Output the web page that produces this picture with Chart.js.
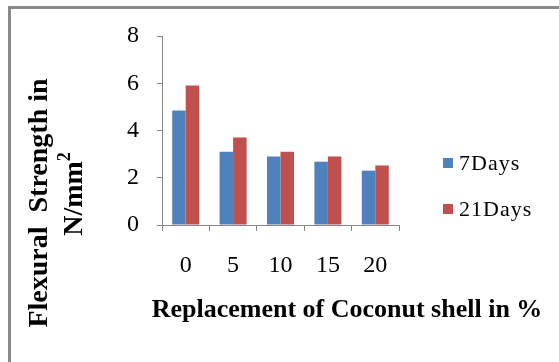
<!DOCTYPE html>
<html>
<head>
<meta charset="utf-8">
<script src="https://cdn.jsdelivr.net/npm/chart.js@4.4.1/dist/chart.umd.min.js"></script>
<style>
    body { margin: 0; background: #fff; }
    #wrap { position: relative; width: 559px; height: 362px; overflow: hidden; }
    #frame {
        position: absolute; left: 8px; top: 6px; width: 600px; height: 400px;
        border-top: 3px solid #8a8a8a; border-left: 3px solid #8a8a8a;
    }
    canvas { position: absolute; left: 0; top: 0; }
</style>
</head>
<body>
<div id="wrap">
    <div id="frame"></div>
    <canvas id="flexChart" width="559" height="362"></canvas>
</div>
<script>
// Replacement percentages
const categories = ["0", "5", "10", "15", "20"];
// Flexural strength (N/mm2)
const days7 = [4.85, 3.1, 2.9, 2.68, 2.3];
const days21 = [5.9, 3.7, 3.1, 2.9, 2.52];
const yTicks = [0, 2, 4, 6, 8];

const serif = "'Liberation Serif', 'Times New Roman', serif";
const axisGray = "#868686";

// Titles and legend drawn on the canvas at their spots
const extrasPlugin = {
    id: "extras",
    afterDraw(chart) {
        const ctx = chart.ctx;
        ctx.save();
        ctx.fillStyle = "#000";
        ctx.textAlign = "center";
        ctx.textBaseline = "middle";

        // x title
        ctx.font = "bold 26px " + serif;
        ctx.fillText("Replacement of Coconut shell in %", 347, 310);

        // y title, two lines rotated
        ctx.font = "bold 28px " + serif;
        ctx.save();
        ctx.translate(40, 203);
        ctx.rotate(-Math.PI / 2);
        ctx.fillText("Flexural  Strength in", 0, 0);
        ctx.restore();

        ctx.save();
        ctx.translate(75, 194);
        ctx.rotate(-Math.PI / 2);
        const main = "N/mm";
        const w = ctx.measureText(main).width;
        ctx.font = "bold 18px " + serif;
        const sw = ctx.measureText("2").width;
        ctx.font = "bold 28px " + serif;
        ctx.textAlign = "left";
        ctx.fillText(main, -(w + sw) / 2, 0);
        ctx.font = "bold 18px " + serif;
        ctx.fillText("2", -(w + sw) / 2 + w, -10);
        ctx.restore();

        // legend
        ctx.font = "22px " + serif;
        ctx.letterSpacing = "1px";
        ctx.textAlign = "left";
        chart.data.datasets.forEach((ds, i) => {
            const y = 163 + i * 46;
            ctx.fillStyle = ds.backgroundColor;
            ctx.fillRect(443, y - 5, 10, 10);
            ctx.fillStyle = "#000";
            ctx.fillText(ds.label, 459, y + 1);
        });
        ctx.restore();
    }
};

new Chart(document.getElementById("flexChart"), {
    type: "bar",
    data: {
        labels: categories,
        datasets: [
            { label: "7Days", data: days7, backgroundColor: "#4f81bd", borderWidth: 0 },
            { label: "21Days", data: days21, backgroundColor: "#c0504d", borderWidth: 0 }
        ]
    },
    options: {
        responsive: false,
        animation: false,
        categoryPercentage: 0.57,
        barPercentage: 1.0,
        layout: { padding: { left: 0, top: 36, right: 160, bottom: 0 } },
        plugins: {
            legend: { display: false },
            tooltip: { enabled: false }
        },
        scales: {
            x: {
                afterFit: (s) => { s.height = 137; },
                grid: { drawOnChartArea: false, tickLength: 6, color: axisGray, offset: true },
                border: { color: axisGray, width: 1 },
                ticks: { color: "#000", font: { family: serif, size: 24 }, padding: 20, maxRotation: 0 }
            },
            y: {
                min: 0,
                max: 8,
                afterFit: (s) => { s.width = 162; },
                afterBuildTicks: (s) => { s.ticks = yTicks.map(v => ({ value: v })); },
                grid: { drawOnChartArea: false, tickLength: 5, color: axisGray },
                border: { color: axisGray, width: 1 },
                ticks: { color: "#000", font: { family: serif, size: 24 }, padding: 18 }
            }
        }
    },
    plugins: [extrasPlugin]
});
</script>
</body>
</html>
